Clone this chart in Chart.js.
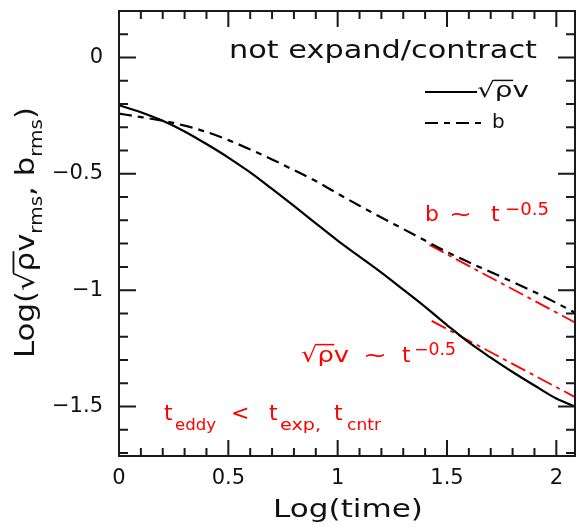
<!DOCTYPE html>
<html><head><meta charset="utf-8">
<script src="https://cdn.jsdelivr.net/npm/chart.js@4/dist/chart.umd.min.js"></script>
<style>html,body{margin:0;padding:0;background:#fff;overflow:hidden}canvas{display:block}</style>
</head><body>
<canvas id="c" width="576" height="527"></canvas>
<script>
// ---- data ----
const logTime     = [0, 0.1, 0.2, 0.3, 0.4, 0.5, 0.6, 0.7, 0.8, 0.9, 1.0, 1.1, 1.2, 1.3, 1.4, 1.5, 1.6, 1.7, 1.8, 1.9, 2.0, 2.09];
const logSqrtRhoV = [-0.205, -0.235, -0.272, -0.318, -0.372, -0.430, -0.494, -0.565, -0.638, -0.713, -0.787, -0.856, -0.925, -0.998, -1.072, -1.150, -1.225, -1.290, -1.352, -1.410, -1.466, -1.502];
const logB        = [-0.241, -0.256, -0.272, -0.293, -0.320, -0.355, -0.395, -0.438, -0.484, -0.531, -0.585, -0.637, -0.688, -0.737, -0.787, -0.836, -0.880, -0.922, -0.965, -1.008, -1.055, -1.099];
const fitTimeB    = [1.42, 2.09];
const fitB        = [-0.806, -1.141];
const fitTimeV    = [1.43, 2.09];
const fitV        = [-1.132, -1.462];
const xTickLabels = ['0', '0.5', '1', '1.5', '2'];
const yTickLabels = ['0', '−0.5', '−1', '−1.5'];

const FONT = '"DejaVu Sans"';
const RED = '#ff0000';
const INK = '#111111';

function pts(xs, ys) { return xs.map((x, i) => ({ x: x, y: ys[i] })); }

function rich(ctx, segs, x, y, size, o) {
  o = o || {};
  ctx.save();
  const font = fs => (fs) + 'px ' + FONT;
  let tot = 0;
  const ws = segs.map(g => { ctx.font = font(size * (g.s || 1)); const w = ctx.measureText(g.t).width; tot += w; return w; });
  const k = o.w ? o.w / tot : 1;
  ctx.translate(x, y);
  if (o.rot) ctx.rotate(o.rot);
  ctx.scale(k, 1);
  ctx.fillStyle = o.c || INK; ctx.strokeStyle = o.c || INK;
  ctx.textBaseline = 'alphabetic'; ctx.textAlign = 'left';
  let cx = 0;
  segs.forEach((g, i) => {
    const fs = size * (g.s || 1);
    ctx.font = font(fs);
    const dy = (g.dy || 0) * size;
    ctx.fillText(g.t, cx, dy);
    if (g.ov) {
      ctx.lineWidth = Math.max(1.2, fs * 0.07);
      ctx.beginPath(); ctx.moveTo(cx - 1, dy - fs * 0.79); ctx.lineTo(cx + ws[i] + 0.5, dy - fs * 0.79); ctx.stroke();
    }
    cx += ws[i];
  });
  ctx.restore();
}

const framePlugin = {
  id: 'frame',
  afterDatasetsDraw(chart) {
    const ctx = chart.ctx, a = chart.chartArea, xs = chart.scales.x, ys = chart.scales.y;
    ctx.save();
    ctx.strokeStyle = '#1a1a1a'; ctx.lineWidth = 2; ctx.setLineDash([]);
    ctx.beginPath();
    ctx.rect(a.left, a.top, a.right - a.left - 1, a.bottom - a.top);
    ctx.stroke();
    ctx.beginPath();
    for (let i = 1; i <= 20; i++) {
      const px = xs.getPixelForValue(i / 10);
      if (px >= a.right - 1) continue;
      const L = (i % 5 === 0) ? 16 : 8;
      ctx.moveTo(px, a.bottom); ctx.lineTo(px, a.bottom - L);
      ctx.moveTo(px, a.top); ctx.lineTo(px, a.top + L);
    }
    for (let i = -17; i <= 1; i++) {
      const py = ys.getPixelForValue(i / 10);
      const L = (i % 5 === 0) ? 17 : 9;
      ctx.moveTo(a.left, py); ctx.lineTo(a.left + L, py);
      ctx.moveTo(a.right - 1, py); ctx.lineTo(a.right - 1 - L, py);
    }
    ctx.stroke();
    ctx.restore();
  },
  afterDraw(chart) {
    const ctx = chart.ctx;
    const ds = chart.data.datasets;
    // titles
    rich(ctx, [{ t: 'Log(time)' }], 273, 517, 24, { w: 150 });
    rich(ctx, [{ t: 'Log(' }, { t: '√' }, { t: 'ρ', ov: true }, { t: 'v' }, { t: 'rms', s: 0.65, dy: 0.3 },
               { t: ', b' }, { t: 'rms', s: 0.65, dy: 0.3 }, { t: ')' }], 34, 358, 26, { w: 251, rot: -Math.PI / 2 });
    // caption
    rich(ctx, [{ t: 'not expand/contract' }], 229, 58, 24, { w: 308 });
    // legend
    ctx.save();
    ctx.strokeStyle = '#000'; ctx.lineWidth = 2.2;
    ctx.setLineDash(ds[0].borderDash || []);
    ctx.beginPath(); ctx.moveTo(425, 92); ctx.lineTo(477, 92); ctx.stroke();
    ctx.setLineDash(ds[1].borderDash || []);
    ctx.beginPath(); ctx.moveTo(425, 123); ctx.lineTo(484, 123); ctx.stroke();
    ctx.restore();
    rich(ctx, [{ t: '√' }, { t: 'ρ', ov: true }, { t: 'v' }], 477, 97, 21, { w: 52 });
    rich(ctx, [{ t: 'b' }], 492, 128, 20);
    // red annotations
    const r = { c: RED };
    rich(ctx, [{ t: 'b' }], 425, 221, 22, r);
    rich(ctx, [{ t: '~' }], 449, 221, 22, { c: RED, w: 23 });
    rich(ctx, [{ t: 't' }], 491, 221, 22, r);
    rich(ctx, [{ t: '−0.5' }], 505, 215, 18, { c: RED, w: 44 });
    rich(ctx, [{ t: '√' }, { t: 'ρ', ov: true }, { t: 'v' }], 301, 362, 22, { c: RED, w: 48 });
    rich(ctx, [{ t: '~' }], 363, 362, 22, { c: RED, w: 24 });
    rich(ctx, [{ t: 't' }], 402, 362, 22, r);
    rich(ctx, [{ t: '−0.5' }], 414, 355, 17, { c: RED, w: 42 });
    rich(ctx, [{ t: 't' }], 164, 420, 22, r);
    rich(ctx, [{ t: 'eddy' }], 175, 430, 15, { c: RED, w: 41 });
    rich(ctx, [{ t: '<' }], 231, 420, 22, r);
    rich(ctx, [{ t: 't' }], 269, 420, 22, r);
    rich(ctx, [{ t: 'exp,' }], 280, 430, 15, { c: RED, w: 41 });
    rich(ctx, [{ t: 't' }], 334, 420, 22, r);
    rich(ctx, [{ t: 'cntr' }], 347, 430, 15, { c: RED, w: 34 });
  }
};

const fmt = (labels, values) => (v) => {
  const i = values.findIndex(t => Math.abs(t - v) < 1e-6);
  return i >= 0 ? labels[i] : '';
};

new Chart(document.getElementById('c'), {
  type: 'scatter',
  data: {
    datasets: [
      { label: '√ρv', data: pts(logTime, logSqrtRhoV), showLine: true, borderColor: '#000', borderWidth: 2.2, pointRadius: 0, cubicInterpolationMode: 'monotone', borderDash: [] },
      { label: 'b', data: pts(logTime, logB), showLine: true, borderColor: '#000', borderWidth: 2.2, pointRadius: 0, cubicInterpolationMode: 'monotone', borderDash: [13, 6, 6, 6] },
      { label: 'b ~ t^-0.5', data: pts(fitTimeB, fitB), showLine: true, borderColor: RED, borderWidth: 1.8, pointRadius: 0, borderDash: [16, 5, 4, 5] },
      { label: '√ρv ~ t^-0.5', data: pts(fitTimeV, fitV), showLine: true, borderColor: RED, borderWidth: 1.8, pointRadius: 0, borderDash: [16, 5, 4, 5] }
    ]
  },
  options: {
    responsive: false,
    animation: false,
    devicePixelRatio: 1,
    layout: { padding: { top: 11, right: 0, bottom: 0, left: 0 } },
    plugins: { legend: { display: false }, tooltip: { enabled: false } },
    scales: {
      x: {
        type: 'linear', min: 0, max: 2.09,
        grid: { display: false, drawTicks: false },
        border: { display: false },
        ticks: { stepSize: 0.5, includeBounds: false, autoSkip: false, maxRotation: 0, padding: 10,
                 color: INK, font: { family: 'DejaVu Sans', size: 21 },
                 callback: fmt(xTickLabels, [0, 0.5, 1, 1.5, 2]) },
        afterFit: s => { s.height = 71; s.paddingLeft = 0; s.paddingRight = 0; }
      },
      y: {
        type: 'linear', min: -1.713, max: 0.2,
        grid: { display: false, drawTicks: false },
        border: { display: false },
        ticks: { stepSize: 0.5, includeBounds: false, autoSkip: false, padding: 16,
                 color: INK, font: { family: 'DejaVu Sans', size: 21 },
                 callback: fmt(yTickLabels, [0, -0.5, -1, -1.5]) },
        afterFit: s => { s.width = 119; s.paddingTop = 0; s.paddingBottom = 0; }
      }
    }
  },
  plugins: [framePlugin]
});
</script>
</body></html>
